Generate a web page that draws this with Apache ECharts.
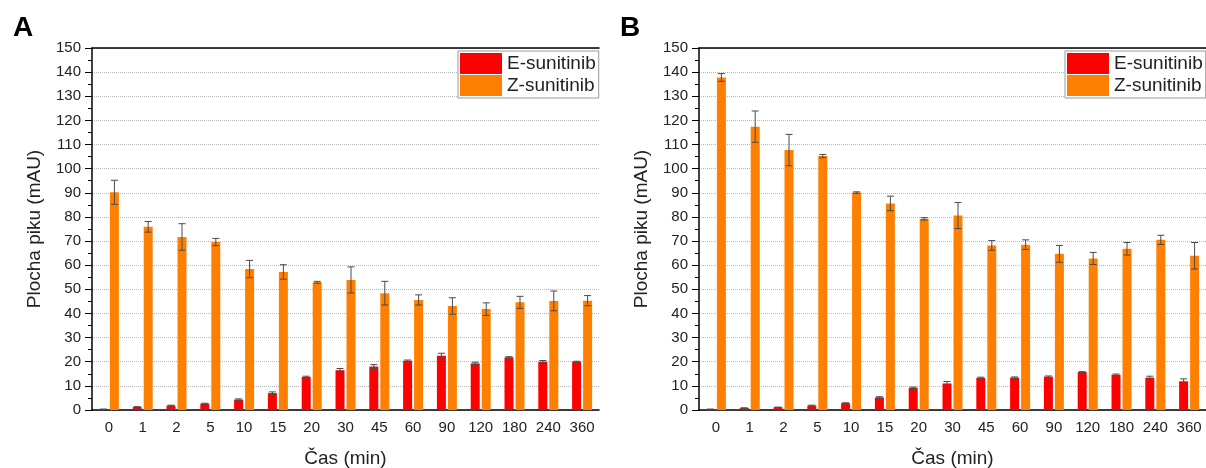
<!DOCTYPE html>
<html>
<head>
<meta charset="utf-8">
<script src="https://cdn.jsdelivr.net/npm/echarts@6/dist/echarts.min.js"></script>
<style>
  html, body { margin: 0; padding: 0; background: #fff; }
  #chart { width: 1206px; height: 468px; }
</style>
</head>
<body>
<div id="chart"></div>
<script>
// casy odberu (min)
var categories = ['0', '1', '2', '5', '10', '15', '20', '30', '45', '60', '90', '120', '180', '240', '360'];

// panel A
var eA = [0.3, 1.2, 1.8, 2.6, 4.3, 7.0, 13.7, 16.5, 18.0, 20.4, 22.5, 19.3, 21.8, 20.0, 20.0];
var eA_sd = [0.1, 0.2, 0.2, 0.2, 0.3, 0.5, 0.3, 0.7, 0.8, 0.3, 1.0, 0.5, 0.3, 0.5, 0.2];
var zA = [90.2, 75.9, 71.7, 69.6, 58.4, 57.2, 52.9, 53.9, 48.4, 45.6, 43.1, 41.8, 44.6, 45.2, 45.3];
var zA_sd = [5.0, 2.2, 5.5, 1.5, 3.6, 3.0, 0.4, 5.4, 4.9, 2.1, 3.4, 2.6, 2.5, 4.1, 2.1];

// panel B
var eB = [0.3, 0.8, 1.1, 1.8, 2.8, 5.2, 9.2, 11.0, 13.3, 13.4, 13.8, 15.7, 14.6, 13.4, 11.9];
var eB_sd = [0.1, 0.1, 0.1, 0.2, 0.2, 0.3, 0.3, 0.8, 0.3, 0.3, 0.3, 0.2, 0.3, 0.6, 1.0];
var zB = [137.8, 117.4, 107.7, 105.2, 90.1, 85.6, 79.2, 80.6, 68.2, 68.5, 64.7, 62.8, 66.8, 70.5, 63.9];
var zB_sd = [1.6, 6.5, 6.5, 0.7, 0.3, 3.0, 0.5, 5.4, 2.0, 2.0, 3.5, 2.5, 2.6, 1.9, 5.5];

var yTicks = { min: 0, max: 150, interval: 10 };

var barW = 9;
var gapPx = 2;
var offs = (barW + gapPx) / 2;
var font = 'Liberation Sans';

var chart = echarts.init(document.getElementById('chart'));

function errData(vals, sds) {
  return vals.map(function (v, i) { return [i, v, sds[i]]; });
}

function errRender(offset) {
  return function (params, api) {
    var i = api.value(0), m = api.value(1), s = api.value(2);
    var hi = api.coord([i, m + s]);
    var lo = api.coord([i, m - s]);
    var cx = hi[0] + offset;
    var cap = 3.5;
    var st = { stroke: '#4a4a4a', lineWidth: 1 };
    return {
      type: 'group',
      children: [
        { type: 'line', shape: { x1: cx, y1: hi[1], x2: cx, y2: lo[1] }, style: st },
        { type: 'line', shape: { x1: cx - cap, y1: hi[1], x2: cx + cap, y2: hi[1] }, style: st },
        { type: 'line', shape: { x1: cx - cap, y1: lo[1], x2: cx + cap, y2: lo[1] }, style: st }
      ]
    };
  };
}

var grids = [
  { left: 92, top: 48, width: 507, height: 362, outerBoundsMode: 'none', containLabel: false },
  { left: 699, top: 48, width: 507, height: 362, outerBoundsMode: 'none', containLabel: false }
];

var xAxes = [], yAxes = [], series = [];
var panels = [[eA, eA_sd, zA, zA_sd], [eB, eB_sd, zB, zB_sd]];

panels.forEach(function (p, g) {
  xAxes.push({
    type: 'category', gridIndex: g, data: categories,
    name: 'Čas (min)', nameLocation: 'middle', nameGap: 39,
    nameTextStyle: { fontSize: 19, color: '#222', fontFamily: font },
    axisLine: { lineStyle: { color: '#000', width: 1.5 } },
    axisTick: { show: false },
    axisLabel: { fontSize: 15, color: '#222', margin: 10, fontFamily: font }
  });
  // horni ramecek
  xAxes.push({
    type: 'category', gridIndex: g, data: categories, position: 'top',
    axisLine: { lineStyle: { color: '#000', width: 1.5 } },
    axisTick: { show: false }, axisLabel: { show: false }
  });
  yAxes.push({
    type: 'value', gridIndex: g, min: yTicks.min, max: yTicks.max, interval: yTicks.interval,
    name: 'Plocha piku (mAU)', nameLocation: 'middle', nameGap: 48,
    nameTextStyle: { fontSize: 19, color: '#222', fontFamily: font },
    axisLine: { show: true, lineStyle: { color: '#000', width: 1.5 } },
    axisTick: { show: true, length: 7, lineStyle: { color: '#000' } },
    minorTick: { show: true, splitNumber: 2, length: 4, lineStyle: { color: '#000' } },
    axisLabel: { fontSize: 15, color: '#222', margin: 11, fontFamily: font },
    splitLine: { show: true, lineStyle: { color: '#b8b8b8', type: 'dotted', width: 1 } }
  });
  var xi = g * 2;
  series.push({
    name: 'E-sunitinib', type: 'bar', xAxisIndex: xi, yAxisIndex: g,
    data: p[0], barWidth: barW, barGap: (gapPx / barW * 100) + '%',
    itemStyle: { color: '#ff0000' }
  });
  series.push({
    name: 'Z-sunitinib', type: 'bar', xAxisIndex: xi, yAxisIndex: g,
    data: p[2], barWidth: barW,
    itemStyle: { color: '#ff8000' }
  });
  series.push({
    type: 'custom', xAxisIndex: xi, yAxisIndex: g, z: 5,
    renderItem: errRender(-offs), data: errData(p[0], p[1]), silent: true
  });
  series.push({
    type: 'custom', xAxisIndex: xi, yAxisIndex: g, z: 5,
    renderItem: errRender(offs), data: errData(p[2], p[3]), silent: true
  });
});

function legendAt(left) {
  return {
    left: left, top: 51, orient: 'vertical',
    data: ['E-sunitinib', 'Z-sunitinib'],
    icon: 'rect', itemWidth: 42, itemHeight: 21, itemGap: 1,
    padding: [2, 3, 2, 2],
    borderColor: '#999', borderWidth: 1, backgroundColor: '#fff',
    textStyle: { fontSize: 19, color: '#222', fontFamily: font },
    selectedMode: false
  };
}

chart.setOption({
  animation: false,
  title: [
    { text: 'A', left: 8, top: 9, textStyle: { fontSize: 28, fontWeight: 'bold', color: '#000', fontFamily: font } },
    { text: 'B', left: 615, top: 9, textStyle: { fontSize: 28, fontWeight: 'bold', color: '#000', fontFamily: font } }
  ],
  legend: [legendAt(458), legendAt(1065)],
  grid: grids,
  xAxis: xAxes,
  yAxis: yAxes,
  series: series
});
</script>
</body>
</html>
